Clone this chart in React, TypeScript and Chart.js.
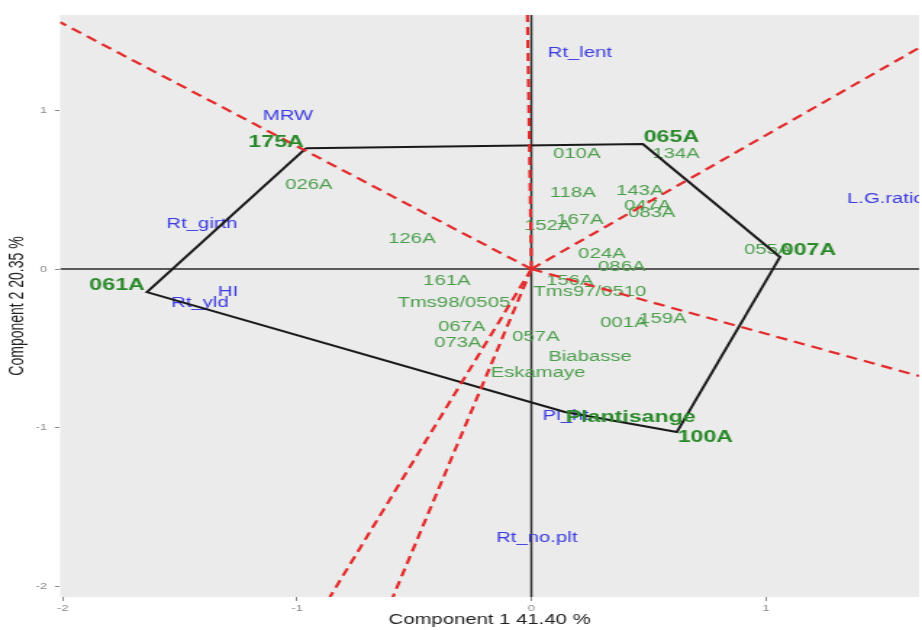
import React, { useEffect, useRef } from "react";
import { Chart, registerables } from "chart.js";

Chart.register(...registerables);

// ---- Data ----
const genotypes = [
  "175A", "065A", "007A", "100A", "Plantisange", "061A",
  "026A", "010A", "118A", "152A", "167A", "024A", "086A", "143A", "047A", "083A",
  "134A", "055A", "126A", "161A", "156A", "Tms97/0510", "Tms98/0505", "067A", "073A",
  "057A", "001A", "159A", "Biabasse", "Eskamaye",
];
const genoX = [
  -0.962, 0.476, 1.061, 0.621, 0.143, -1.641,
  -0.95, 0.194, 0.177, 0.07, 0.207, 0.301, 0.386, 0.463, 0.497, 0.514,
  0.617, 1.009, -0.51, -0.361, 0.164, 0.25, -0.331, -0.297, -0.314,
  0.019, 0.395, 0.561, 0.25, 0.028,
];
const genoY = [
  0.763, 0.789, 0.076, -1.028, -0.902, -0.145,
  0.53, 0.726, 0.479, 0.271, 0.309, 0.095, 0.013, 0.492, 0.397, 0.353,
  0.726, 0.12, 0.189, -0.076, -0.076, -0.145, -0.215, -0.366, -0.467,
  -0.429, -0.341, -0.315, -0.555, -0.656,
];
// convex hull (polygon vertices, in drawing order)
const hullOrder = ["175A", "065A", "007A", "100A", "Plantisange", "061A"];

const traits = ["MRW", "Rt_lent", "Rt_girth", "HI", "Rt_yld", "L.G.ratio", "Pl_ht", "Rt_no.plt"];
const traitX = [-1.039, 0.207, -1.406, -1.295, -1.415, 1.513, 0.147, 0.023];
const traitY = [0.965, 1.363, 0.284, -0.145, -0.215, 0.442, -0.927, -1.697];

// perpendicular rays from the origin (end points at the panel edge)
const rayEndX = [-2.012, -0.017, 1.655, 1.655, -0.86, -0.591];
const rayEndY = [1.558, 1.603, 1.396, -0.675, -2.069, -2.069];

const xTickValues = [-2, -1, 0, 1];
const yTickValues = [-2, -1, 0, 1];
const xRange = [-2.012, 1.655];
const yRange = [-2.069, 1.603];
const xTitle = "Component 1 41.40 %";
const yTitle = "Component 2 20.35 %";

// ---- Styles ----
const FONT = '"Liberation Sans", Arial, Helvetica, sans-serif';
const PANEL = "#ebebeb";
const BLUE = "#3b3be0";
const GREEN = "#4d9f4d";
const GREEN_BOLD = "#2a8a2a";
const RED = "#e32b2b";
const W = 636; // internal canvas width, stretched to 922 px on screen
const H = 630;

export default function App() {
  const ref = useRef<HTMLCanvasElement>(null);

  useEffect(() => {
    const canvas = ref.current;
    if (!canvas) return;

    const idx = (n: string) => genotypes.indexOf(n);
    const hullPts = hullOrder.map((n) => ({ x: genoX[idx(n)], y: genoY[idx(n)] }));
    hullPts.push(hullPts[0]);

    const rayDatasets = rayEndX.map((ex, i) => ({
      label: "ray" + i,
      data: [{ x: 0, y: 0 }, { x: ex, y: rayEndY[i] }],
      showLine: true,
      borderColor: RED,
      borderWidth: 2.2,
      borderDash: [8, 5],
      pointRadius: 0,
      order: 1,
    }));

    const plugin = {
      id: "biplotDecor",
      beforeDraw(chart: any) {
        const { ctx, chartArea: a } = chart;
        ctx.save();
        ctx.fillStyle = PANEL;
        ctx.fillRect(a.left, a.top, a.right - a.left, a.bottom - a.top);
        ctx.restore();
      },
      beforeDatasetsDraw(chart: any) {
        const { ctx, chartArea: a, scales } = chart;
        const xs = scales.x, ys = scales.y;
        ctx.save();
        ctx.beginPath();
        ctx.rect(a.left, a.top, a.right - a.left, a.bottom - a.top);
        ctx.clip();
        // zero axes
        const x0 = xs.getPixelForValue(0);
        const y0 = ys.getPixelForValue(0);
        ctx.strokeStyle = "#2b2b2b";
        ctx.lineWidth = 1.5;
        ctx.beginPath();
        ctx.moveTo(a.left, y0);
        ctx.lineTo(a.right, y0);
        ctx.moveTo(x0, a.top);
        ctx.lineTo(x0, a.bottom);
        ctx.stroke();
        // trait labels
        ctx.textAlign = "center";
        ctx.textBaseline = "middle";
        ctx.font = `14px ${FONT}`;
        ctx.fillStyle = BLUE;
        traits.forEach((t, i) => {
          ctx.fillText(t, xs.getPixelForValue(traitX[i]), ys.getPixelForValue(traitY[i]));
        });
        // non-vertex genotype labels
        ctx.fillStyle = GREEN;
        genotypes.forEach((g, i) => {
          if (hullOrder.includes(g)) return;
          ctx.fillText(g, xs.getPixelForValue(genoX[i]), ys.getPixelForValue(genoY[i]));
        });
        ctx.restore();
      },
      afterDatasetsDraw(chart: any) {
        const { ctx, chartArea: a, scales } = chart;
        const xs = scales.x, ys = scales.y;
        ctx.save();
        ctx.beginPath();
        ctx.rect(a.left, a.top, a.right - a.left, a.bottom - a.top);
        ctx.clip();
        ctx.font = `bold 16px ${FONT}`;
        ctx.fillStyle = GREEN_BOLD;
        ctx.textBaseline = "middle";
        hullOrder.forEach((g) => {
          const i = idx(g);
          const px = xs.getPixelForValue(genoX[i]);
          const py = ys.getPixelForValue(genoY[i]);
          const right = genoX[i] < 0;
          ctx.textAlign = right ? "right" : "left";
          const dx = right ? -1.5 : 0.5;
          const dy = genoY[i] < -0.5 ? 6 : -6;
          ctx.fillText(g, px + dx, py + dy);
        });
        ctx.restore();
      },
    };

    const tickFont = { family: FONT, size: 9 };
    const chart = new Chart(canvas, {
      type: "scatter",
      data: {
        datasets: [
          ...rayDatasets,
          {
            label: "hull",
            data: hullPts,
            showLine: true,
            borderColor: "#1a1a1a",
            borderWidth: 2,
            pointRadius: 0,
            order: 2,
          },
          {
            label: "genotypes",
            data: genoX.map((x, i) => ({ x, y: genoY[i] })),
            pointRadius: 0,
            order: 3,
          },
          {
            label: "traits",
            data: traitX.map((x, i) => ({ x, y: traitY[i] })),
            pointRadius: 0,
            order: 3,
          },
        ] as any,
      },
      options: {
        responsive: false,
        animation: false,
        devicePixelRatio: 1,
        events: [],
        layout: { padding: { top: 15, right: 2, bottom: 0, left: 0 } },
        plugins: {
          legend: { display: false },
          tooltip: { enabled: false },
        },
        elements: { line: { tension: 0 } },
        scales: {
          x: {
            type: "linear",
            min: xRange[0],
            max: xRange[1],
            border: { display: false },
            grid: { display: true, drawOnChartArea: false, drawTicks: true, tickLength: 4, color: "#8a8a8a" },
            ticks: { font: tickFont, color: "#8a8a8a", padding: 2, autoSkip: false, maxRotation: 0, callback: (v: any) => String(v) },
            title: { display: true, text: xTitle, color: "#222", font: { family: FONT, size: 14 }, padding: { top: 0, bottom: 1 } },
            afterBuildTicks: (s: any) => { s.ticks = xTickValues.map((v) => ({ value: v })); },
            afterFit: (s: any) => { s.height = 33; },
          },
          y: {
            type: "linear",
            min: yRange[0],
            max: yRange[1],
            border: { display: false },
            grid: { display: true, drawOnChartArea: false, drawTicks: true, tickLength: 3.5, color: "#8a8a8a" },
            ticks: { font: tickFont, color: "#8a8a8a", padding: 5.5, autoSkip: false, callback: (v: any) => String(v) },
            title: { display: true, text: yTitle, color: "#222", font: { family: FONT, size: 14 }, padding: { top: 4, bottom: 0 } },
            afterBuildTicks: (s: any) => { s.ticks = yTickValues.map((v) => ({ value: v })); },
            afterFit: (s: any) => { s.width = 41.4; },
          },
        },
      } as any,
      plugins: [plugin],
    });

    return () => chart.destroy();
  }, []);

  return (
    <div style={{ position: "absolute", left: 0, top: 0, width: 922, height: 630, background: "#fff" }}>
      <canvas
        ref={ref}
        width={W}
        height={H}
        style={{ width: "922px", height: "630px", display: "block" }}
      />
    </div>
  );
}
